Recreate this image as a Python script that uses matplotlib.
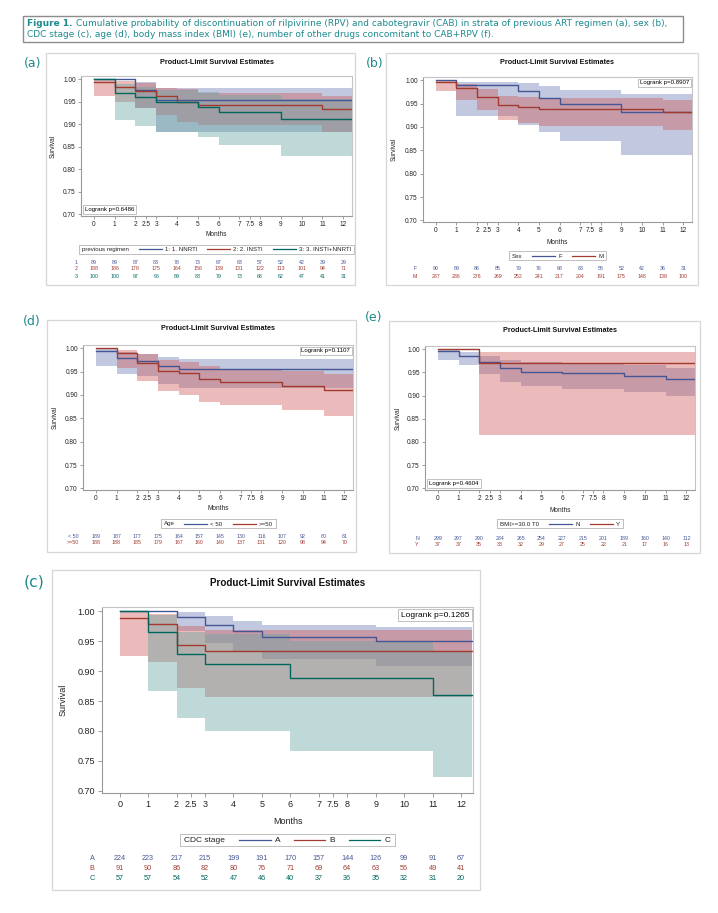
import matplotlib
matplotlib.use("Agg")
import matplotlib.pyplot as plt
from matplotlib.patches import Rectangle
from matplotlib.transforms import blended_transform_factory

# ── Estilo general ────────────────────────────────────────────────────────────
W, H = 718, 913
BLUE, RED, GREEN = "#445694", "#A23A2E", "#01665E"
BAND = {BLUE: "#6F7EB3", RED: "#D05B5B", GREEN: "#66A5A0"}
TEAL = "#1d8a8e"
plt.rcParams["font.family"] = ["Liberation Sans", "DejaVu Sans"]

FOLLOW_END = 12.4
XTICKS = [0, 1, 2, 2.5, 3, 4, 5, 6, 7, 7.5, 8, 9, 10, 11, 12]
YTICKS = [0.70, 0.75, 0.80, 0.85, 0.90, 0.95, 1.00]
RISK_MONTHS = list(range(13))

# ── (a) previous regimen ──────────────────────────────────────────────────────
REG_NAMES = ["1: 1. NNRTI", "2: 2. INSTI", "3: 3. INSTI+NNRTI"]
REG_ROWS = ["1", "2", "3"]
REG_T1 = [0, 2, 3]
REG_S1 = [1.000, 0.977, 0.953]
REG_LO1 = [1.000, 0.936, 0.882]
REG_HI1 = [1.000, 0.994, 0.981]
REG_T2 = [0, 1, 2, 3, 4, 5, 11]
REG_S2 = [0.994, 0.983, 0.973, 0.962, 0.950, 0.943, 0.933]
REG_LO2 = [0.963, 0.950, 0.935, 0.920, 0.906, 0.898, 0.882]
REG_HI2 = [1.000, 0.995, 0.991, 0.980, 0.978, 0.969, 0.962]
REG_T3 = [0, 1, 2, 3, 5, 6, 9]
REG_S3 = [1.000, 0.970, 0.960, 0.950, 0.939, 0.927, 0.911]
REG_LO3 = [1.000, 0.910, 0.897, 0.882, 0.871, 0.853, 0.830]
REG_HI3 = [1.000, 0.990, 0.983, 0.977, 0.972, 0.965, 0.955]
REG_RISK1 = [89, 89, 87, 83, 78, 73, 67, 63, 57, 52, 42, 39, 29]
REG_RISK2 = [188, 186, 178, 175, 164, 156, 139, 131, 122, 113, 101, 94, 71]
REG_RISK3 = [100, 100, 97, 96, 89, 88, 79, 73, 68, 62, 47, 41, 31]

# ── (b) sex ───────────────────────────────────────────────────────────────────
SEX_NAMES = ["F", "M"]
SEX_T1 = [0, 1, 4, 5, 6, 9]
SEX_S1 = [1.000, 0.989, 0.977, 0.963, 0.949, 0.931]
SEX_LO1 = [1.000, 0.923, 0.905, 0.890, 0.870, 0.840]
SEX_HI1 = [1.000, 0.997, 0.995, 0.987, 0.980, 0.971]
SEX_T2 = [0, 1, 2, 3, 4, 5, 11]
SEX_S2 = [0.997, 0.983, 0.965, 0.947, 0.943, 0.939, 0.932]
SEX_LO2 = [0.976, 0.958, 0.936, 0.914, 0.908, 0.903, 0.893]
SEX_HI2 = [1.000, 0.992, 0.981, 0.966, 0.964, 0.961, 0.957]
SEX_RISK1 = [90, 89, 86, 85, 79, 76, 68, 63, 56, 52, 42, 36, 31]
SEX_RISK2 = [287, 286, 276, 269, 252, 241, 217, 204, 191, 175, 148, 138, 100]

# ── (d) age ───────────────────────────────────────────────────────────────────
AGE_NAMES = ["< 50", ">=50"]
AGE_T1 = [0, 1, 2, 3, 4]
AGE_S1 = [0.995, 0.979, 0.973, 0.961, 0.956]
AGE_LO1 = [0.963, 0.944, 0.940, 0.923, 0.915]
AGE_HI1 = [1.000, 0.992, 0.988, 0.981, 0.977]
AGE_T2 = [0, 1, 2, 3, 4, 5, 6, 9, 11]
AGE_S2 = [1.000, 0.989, 0.968, 0.951, 0.946, 0.934, 0.927, 0.920, 0.910]
AGE_LO2 = [1.000, 0.958, 0.930, 0.909, 0.901, 0.886, 0.878, 0.867, 0.854]
AGE_HI2 = [1.000, 0.997, 0.987, 0.975, 0.971, 0.962, 0.956, 0.951, 0.944]
AGE_RISK1 = [189, 187, 177, 175, 164, 157, 145, 130, 116, 107, 92, 80, 61]
AGE_RISK2 = [188, 188, 185, 179, 167, 160, 140, 137, 131, 120, 98, 94, 70]

# ── (e) BMI ───────────────────────────────────────────────────────────────────
BMI_NAMES = ["N", "Y"]
BMI_T1 = [0, 1, 2, 3, 4, 6, 9, 11]
BMI_S1 = [0.997, 0.986, 0.972, 0.959, 0.952, 0.948, 0.942, 0.935]
BMI_LO1 = [0.977, 0.965, 0.946, 0.929, 0.920, 0.915, 0.908, 0.899]
BMI_HI1 = [1.000, 0.995, 0.986, 0.977, 0.973, 0.969, 0.965, 0.960]
BMI_T2 = [0, 2]
BMI_S2 = [1.000, 0.971]
BMI_LO2 = [1.000, 0.815]
BMI_HI2 = [1.000, 0.995]
BMI_RISK1 = [299, 297, 290, 284, 265, 254, 227, 215, 201, 189, 160, 140, 112]
BMI_RISK2 = [37, 37, 35, 33, 32, 29, 27, 25, 22, 21, 17, 16, 13]

# ── (c) CDC stage ─────────────────────────────────────────────────────────────
CDC_NAMES = ["A", "B", "C"]
CDC_T1 = [0, 2, 3, 4, 5, 9]
CDC_S1 = [1.000, 0.991, 0.977, 0.967, 0.957, 0.950]
CDC_LO1 = [1.000, 0.967, 0.947, 0.934, 0.920, 0.908]
CDC_HI1 = [1.000, 0.998, 0.992, 0.984, 0.977, 0.973]
CDC_T2 = [0, 1, 2, 3]
CDC_S2 = [0.989, 0.978, 0.944, 0.933]
CDC_LO2 = [0.925, 0.915, 0.871, 0.856]
CDC_HI2 = [1.000, 0.995, 0.976, 0.969]
CDC_T3 = [0, 1, 2, 3, 6, 11]
CDC_S3 = [1.000, 0.965, 0.929, 0.912, 0.888, 0.860]
CDC_LO3 = [1.000, 0.867, 0.822, 0.800, 0.767, 0.724]
CDC_HI3 = [1.000, 0.993, 0.966, 0.962, 0.950, 0.934]
CDC_RISK1 = [224, 223, 217, 215, 199, 191, 170, 157, 144, 126, 99, 91, 67]
CDC_RISK2 = [91, 90, 86, 82, 80, 76, 71, 69, 64, 63, 56, 49, 41]
CDC_RISK3 = [57, 57, 54, 52, 47, 46, 40, 37, 36, 35, 32, 31, 20]

CAPTION_1 = ("Cumulative probability of discontinuation of rilpivirine (RPV) and cabotegravir "
             "(CAB) in strata of previous ART regimen (a), sex (b),")
CAPTION_2 = ("CDC stage (c), age (d), body mass index (BMI) (e), number of other drugs "
             "concomitant to CAB+RPV (f).")

# ── Figura y capa en pixeles ──────────────────────────────────────────────────
fig = plt.figure(figsize=(W / 100, H / 100), dpi=100)
ov = fig.add_axes([0, 0, 1, 1])
ov.set_xlim(0, W)
ov.set_ylim(H, 0)
ov.set_autoscale_on(False)
ov.axis("off")
rend = fig.canvas.get_renderer()


def px_rect(x0, y0, x1, y1):
    return [x0 / W, 1 - y1 / H, (x1 - x0) / W, (y1 - y0) / H]


def legend_row(cx, cy, title, names, colors, fs, s):
    t0 = ov.text(0, cy, title, fontsize=fs, va="center", ha="left", color="#222222")
    labs = [ov.text(0, cy, n, fontsize=fs, va="center", ha="left", color="#222222") for n in names]
    wt = t0.get_window_extent(rend).width
    wl = [t.get_window_extent(rend).width for t in labs]
    pad, gap, seg, lg = 3 * s, 10 * s, 23 * s, 3 * s
    total = pad + wt + sum(gap + seg + lg + w for w in wl) + pad
    x = cx - total / 2
    ov.add_patch(Rectangle((x, cy - 4.5 * s), total, 9 * s, fill=False, ec="#b4b4b4", lw=0.6))
    x += pad
    t0.set_x(x)
    x += wt
    for t, w, c in zip(labs, wl, colors):
        x += gap
        ov.plot([x, x + seg], [cy, cy], color=c, lw=0.9)
        x += seg + lg
        t.set_x(x)
        x += w


def draw_panel(letter, letter_xy, box, axbox, groups, legend_title, row_labels,
               logrank, lr_top, title_y, surv_x, months_y, legend_y, rows_y, row_x, s=1.0):
    bx0, by0, bx1, by1 = box
    ov.add_patch(Rectangle((bx0, by0), bx1 - bx0, by1 - by0, fill=False, ec="#d6d6d6", lw=0.9))
    ov.text(*letter_xy, letter, fontsize=9 * s ** 0.7, color=TEAL, family="DejaVu Sans",
            va="center", ha="left")

    ax = fig.add_axes(px_rect(*axbox))
    for times, surv, lo, hi, col, _, _ in groups:
        te = times + [FOLLOW_END]
        ax.fill_between(te, lo + [lo[-1]], hi + [hi[-1]], step="post",
                        color=BAND[col], alpha=0.42, lw=0, zorder=1)
    for times, surv, lo, hi, col, _, _ in groups:
        ax.step(times + [FOLLOW_END], surv + [surv[-1]], where="post", color=col, lw=1.0, zorder=3)

    ax.set_xlim(-0.62, 12.42)
    ax.set_ylim(0.6965, 1.007)
    ax.set_xticks(XTICKS)
    ax.set_xticklabels([f"{t:g}" for t in XTICKS])
    ax.set_yticks(YTICKS)
    ax.set_yticklabels([f"{v:.2f}" for v in YTICKS])
    ax.tick_params(direction="out", length=2.2 * s, width=0.5, color="#777777",
                   labelsize=4.7 * s, pad=1.5 * s, labelcolor="#222222")
    for sp in ax.spines.values():
        sp.set_color("#c4c4c4")
        sp.set_linewidth(0.8)
    ax.spines["left"].set_color("#9a9a9a")
    ax.spines["bottom"].set_color("#9a9a9a")

    if lr_top:
        ax.annotate(logrank, (1, 1), xycoords="axes fraction", xytext=(-2 * s, -2.5 * s),
                    textcoords="offset points", ha="right", va="top", fontsize=4.4 * s,
                    bbox=dict(boxstyle="square,pad=0.3", fc="white", ec="#a8a8a8", lw=0.5))
    else:
        ax.annotate(logrank, (0, 0), xycoords="axes fraction", xytext=(3 * s, 3 * s),
                    textcoords="offset points", ha="left", va="bottom", fontsize=4.4 * s,
                    bbox=dict(boxstyle="square,pad=0.3", fc="white", ec="#a8a8a8", lw=0.5))

    ax0, ay0, ax1, ay1 = axbox
    ov.text((ax0 + ax1) / 2, title_y, "Product-Limit Survival Estimates", fontsize=5.2 * s,
            fontweight="bold", ha="center", va="center", color="#111111")
    ov.text(surv_x, (ay0 + ay1) / 2, "Survival", fontsize=4.7 * s, rotation=90,
            ha="center", va="center", color="#222222")
    ov.text((ax0 + ax1) / 2, months_y, "Months", fontsize=4.7 * s,
            ha="center", va="center", color="#222222")

    legend_row((ax0 + ax1) / 2, legend_y, legend_title, [g[6] for g in groups],
               [g[4] for g in groups], 4.4 * s, s)

    tr = blended_transform_factory(ax.transData, ov.transData)
    for (times, surv, lo, hi, col, risk, name), ry, rl in zip(groups, rows_y, row_labels):
        ov.text(row_x, ry, rl, fontsize=3.8 * s, color=col, ha="center", va="center")
        for m, n in zip(RISK_MONTHS, risk):
            ax.text(m, ry, str(n), transform=tr, fontsize=3.8 * s, color=col,
                    ha="center", va="center", clip_on=False)
    return ax


# ── Leyenda de la figura ──────────────────────────────────────────────────────
ov.add_patch(Rectangle((23, 16), 660, 26, fill=False, ec="#8c8c8c", lw=1.0))
cap_fs = 6.5
t_fig = ov.text(27, 24, "Figure 1.", fontsize=cap_fs, fontweight="bold", color=TEAL,
                family="DejaVu Sans", va="center", ha="left")
w_fig = t_fig.get_window_extent(rend).width
ov.text(27 + w_fig + 3, 24, CAPTION_1, fontsize=cap_fs, color=TEAL,
        family="DejaVu Sans", va="center", ha="left")
ov.text(27, 34.5, CAPTION_2, fontsize=cap_fs, color=TEAL,
        family="DejaVu Sans", va="center", ha="left")

# ── Paneles ───────────────────────────────────────────────────────────────────
draw_panel("(a)", (24, 63), (46, 53, 355, 285), (81, 76, 352, 216),
           [(REG_T1, REG_S1, REG_LO1, REG_HI1, BLUE, REG_RISK1, REG_NAMES[0]),
            (REG_T2, REG_S2, REG_LO2, REG_HI2, RED, REG_RISK2, REG_NAMES[1]),
            (REG_T3, REG_S3, REG_LO3, REG_HI3, GREEN, REG_RISK3, REG_NAMES[2])],
           "previous regimen", REG_ROWS, "Logrank p=0.6486", False,
           62, 53, 234, 249.5, [262, 269, 276], 76)

draw_panel("(b)", (366, 63), (386, 53, 698, 285), (423, 77, 692, 222),
           [(SEX_T1, SEX_S1, SEX_LO1, SEX_HI1, BLUE, SEX_RISK1, SEX_NAMES[0]),
            (SEX_T2, SEX_S2, SEX_LO2, SEX_HI2, RED, SEX_RISK2, SEX_NAMES[1])],
           "Sex", SEX_NAMES, "Logrank p=0.8907", True,
           62, 394, 243, 256, [269, 277], 415)

draw_panel("(d)", (23, 322), (47, 320, 356, 552), (83, 345, 353, 490),
           [(AGE_T1, AGE_S1, AGE_LO1, AGE_HI1, BLUE, AGE_RISK1, AGE_NAMES[0]),
            (AGE_T2, AGE_S2, AGE_LO2, AGE_HI2, RED, AGE_RISK2, AGE_NAMES[1])],
           "Age", AGE_NAMES, "Logrank p=0.1107", True,
           329, 55, 509, 524, [537, 543], 73)

draw_panel("(e)", (365, 318), (389, 321, 700, 553), (425, 346, 695, 490),
           [(BMI_T1, BMI_S1, BMI_LO1, BMI_HI1, BLUE, BMI_RISK1, BMI_NAMES[0]),
            (BMI_T2, BMI_S2, BMI_LO2, BMI_HI2, RED, BMI_RISK2, BMI_NAMES[1])],
           "BMI>=30.0 T0", BMI_NAMES, "Logrank p=0.4604", False,
           330, 398, 511, 524, [538, 544], 417)

draw_panel("(c)", (24, 582), (52, 570, 480, 890), (102, 607, 473, 793),
           [(CDC_T1, CDC_S1, CDC_LO1, CDC_HI1, BLUE, CDC_RISK1, CDC_NAMES[0]),
            (CDC_T2, CDC_S2, CDC_LO2, CDC_HI2, RED, CDC_RISK2, CDC_NAMES[1]),
            (CDC_T3, CDC_S3, CDC_LO3, CDC_HI3, GREEN, CDC_RISK3, CDC_NAMES[2])],
           "CDC stage", CDC_NAMES, "Logrank p=0.1265", True,
           583, 63, 821, 840, [858, 868, 878], 92, s=1.37)

fig.savefig("out.png", dpi=100, facecolor="white")
